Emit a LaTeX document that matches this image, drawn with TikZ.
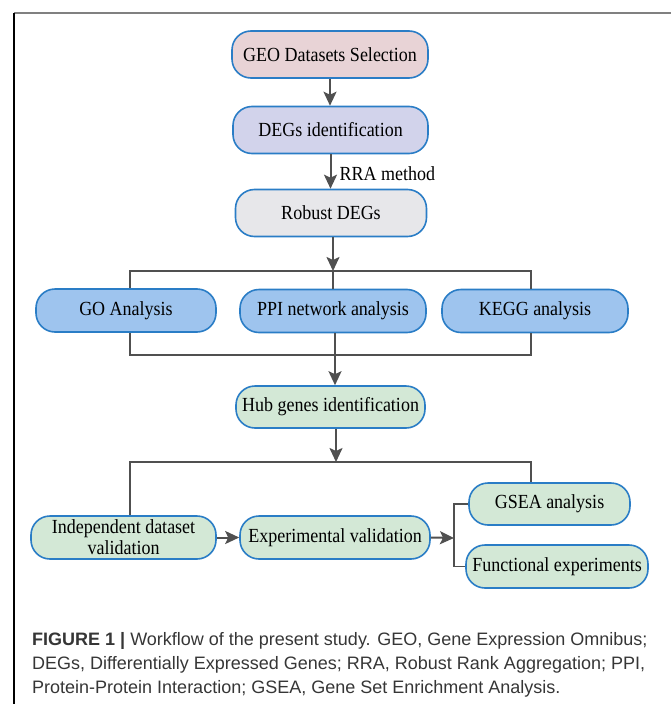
\documentclass[tikz,border=0pt]{standalone}
\usepackage{fontspec}
\setmainfont{Liberation Serif}
\newfontfamily\boxfont[FakeStretch=0.9]{Liberation Serif}
\newfontfamily\capfont{Liberation Sans}
\usetikzlibrary{arrows.meta,calc}
\definecolor{bordblue}{HTML}{2A7DC6}
\definecolor{linegray}{HTML}{505050}
\definecolor{capgray}{HTML}{363636}
\definecolor{fillpink}{HTML}{E8D3D6}
\definecolor{filllav}{HTML}{D2D3EB}
\definecolor{fillgray}{HTML}{E7E7EA}
\definecolor{fillblue}{HTML}{9EC4EE}
\definecolor{fillgreen}{HTML}{D3E8D6}
\tikzset{
  box/.style={draw=bordblue, line width=1.6pt, rounded corners=19pt, inner sep=0pt,
    font=\boxfont\fontsize{20}{21}\selectfont, align=center},
  arr/.style={draw=linegray, line width=2pt, -{Stealth[length=14pt,width=13pt,inset=3pt]}},
  conn/.style={draw=linegray, line width=1.4pt},
  captext/.style={anchor=base west, inner sep=0pt, text=capgray, font=\capfont\fontsize{18}{24}\selectfont}
}
\begin{document}
\begin{tikzpicture}[x=1pt,y=-1pt]
\useasboundingbox (0,0) rectangle (671,704);
% frame
\draw[draw=gray, line width=1.5pt] (14,13) -- (671,13);
\draw[draw=black, line width=1.5pt] (14,13) -- (14,704);
% nodes
\node[box, fill=fillpink, minimum width=196pt, minimum height=47pt] (geo) at (330,54.5) {GEO Datasets Selection};
\node[box, fill=filllav, minimum width=195pt, minimum height=47pt] (deg) at (330.5,130) {DEGs identification};
\node[box, fill=fillgray, minimum width=191pt, minimum height=47pt] (rob) at (331,213) {Robust DEGs};
\node[box, fill=fillblue, minimum width=180pt, minimum height=43pt] (go) at (126,310.5) {GO Analysis};
\node[box, fill=fillblue, minimum width=186pt, minimum height=43pt] (ppi) at (333,311) {PPI network analysis};
\node[box, fill=fillblue, minimum width=186pt, minimum height=43pt] (kegg) at (535,311) {KEGG analysis};
\node[box, fill=fillgreen, minimum width=189pt, minimum height=42pt] (hub) at (330.5,407) {Hub genes identification};
\node[box, fill=fillgreen, minimum width=185pt, minimum height=43pt] (ind) at (123.5,537.5) {Independent dataset\\validation};
\node[box, fill=fillgreen, minimum width=190pt, minimum height=43pt] (exp) at (335,537.5) {Experimental validation};
\node[box, fill=fillgreen, minimum width=161pt, minimum height=42pt] (gsea) at (549.5,504) {GSEA analysis};
\node[box, fill=fillgreen, minimum width=182pt, minimum height=43pt] (fun) at (557,566.5) {Functional experiments};
% coordinates
\coordinate (b1) at (333,271);
\coordinate (b2) at (335,355);
\coordinate (b3) at (336,462);
\coordinate (sp) at (454,538);
% connectors
\draw[arr] (geo.south) -- (geo.south |- deg.north);
\draw[arr] (deg.south) -- (deg.south |- rob.north) node[pos=0.55, anchor=west, xshift=8pt, inner sep=0pt, font=\boxfont\fontsize{20}{21}\selectfont] (rra) {RRA method};
\draw[conn] ([xshift=4pt]go.north) |- (b1) -| ([xshift=-4pt]kegg.north);
\draw[conn] (b1) -- (b1 |- ppi.north);
\draw[arr] (rob.south -| b1) -- (b1);
\draw[conn] ([xshift=4pt]go.south) |- (b2) -| ([xshift=-4pt]kegg.south);
\draw[arr] (ppi.south -| b2) -- (b2 |- hub.north);
\draw[conn] ([xshift=6.5pt]ind.north) |- (b3) -| ([xshift=-18.5pt]gsea.north);
\draw[arr] (hub.south -| b3) -- (b3);
\draw[arr] (ind.east) -- (exp.west);
\draw[conn] (gsea.west) -| (sp) |- (fun.west);
\draw[arr] (exp.east) -- (sp);
% caption
\node[captext] (cap1) at (32,645) {\textbf{FIGURE 1 |} Workflow of the present study. GEO, Gene Expression Omnibus;};
\node[captext] (cap2) at (32,669) {DEGs, Differentially Expressed Genes; RRA, Robust Rank Aggregation; PPI,};
\node[captext] (cap3) at (32,693) {Protein-Protein Interaction; GSEA, Gene Set Enrichment Analysis.};
\end{tikzpicture}
\end{document}
